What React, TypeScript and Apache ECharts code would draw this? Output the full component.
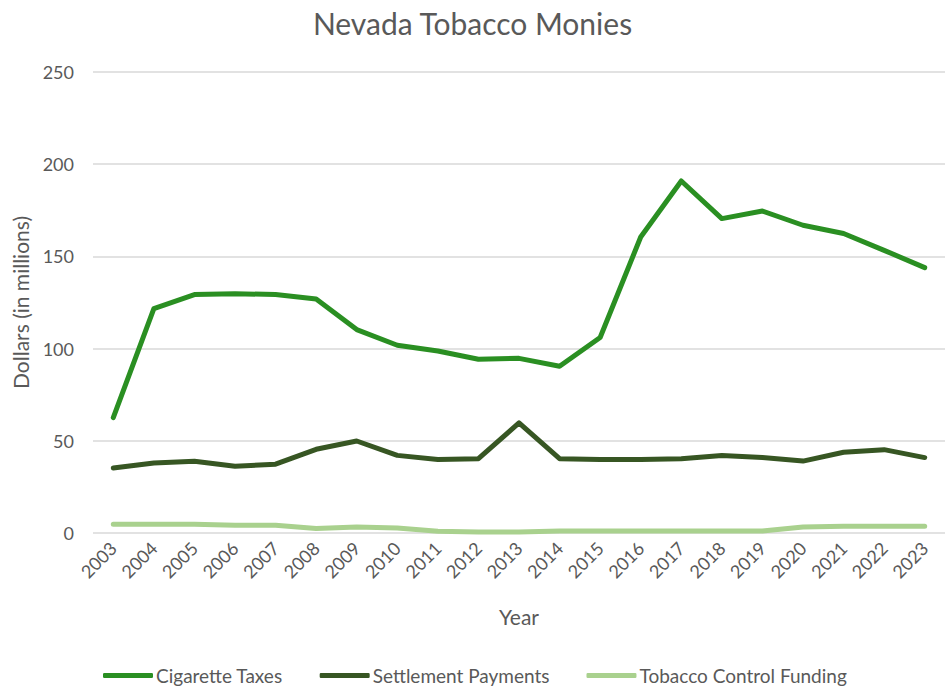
import React, { useEffect, useRef } from "react";
import * as echarts from "echarts";

const years = ["2003","2004","2005","2006","2007","2008","2009","2010","2011","2012","2013","2014","2015","2016","2017","2018","2019","2020","2021","2022","2023"];
const cigaretteTaxes = [62.6,121.7,129.3,129.8,129.3,126.9,110.3,101.8,98.7,94.2,94.7,90.4,106,160.5,190.9,170.5,174.6,166.9,162.4,153.3,143.9];
const settlementPayments = [35.3,38,38.9,36.2,37.3,45.4,49.9,42.1,39.8,40.3,59.7,40.3,39.8,39.8,40.3,42,40.9,39,43.8,45.2,40.9];
const tobaccoControl = [4.7,4.7,4.7,4.2,4.2,2.4,3.3,2.7,0.9,0.6,0.6,1.1,1.1,1.1,1.1,1.1,1.1,3.3,3.6,3.6,3.6];
const yTicks = [0, 50, 100, 150, 200, 250];

const FONT = "Lato";
const GREY = "#595959";

export default function App() {
  const ref = useRef<HTMLDivElement>(null);
  useEffect(() => {
    if (!ref.current) return;
    const chart = echarts.init(ref.current, null, { renderer: "svg" });
    const mk = (name: string, data: number[], color: string) => ({
      name,
      type: "line",
      data,
      symbol: "none",
      smooth: false,
      lineStyle: { color, width: 5, cap: "round", join: "round" },
      itemStyle: { color },
    });
    chart.setOption({
      animation: false,
      backgroundColor: "#ffffff",
      textStyle: { fontFamily: FONT },
      title: {
        text: "Nevada Tobacco Monies",
        left: "center",
        top: 3,
        textStyle: { fontFamily: FONT, fontSize: 30, fontWeight: "normal", color: GREY },
      },
      grid: { left: 93, top: 72, width: 863, height: 461 },
      legend: {
        left: 98,
        top: 661,
        itemWidth: 50,
        itemHeight: 5,
        itemGap: 37,
        icon: "roundRect",
        textStyle: { fontFamily: FONT, fontSize: 19, color: GREY, padding: [0, 0, 0, -2] },
        data: ["Cigarette Taxes", "Settlement Payments", "Tobacco Control Funding"],
      },
      xAxis: {
        type: "category",
        data: years,
        boundaryGap: true,
        name: "Year",
        nameLocation: "middle",
        nameGap: 73,
        nameTextStyle: { fontFamily: FONT, fontSize: 21, color: GREY },
        axisLine: { show: false },
        axisTick: { show: false },
        axisLabel: { rotate: 45, fontFamily: FONT, fontSize: 18, color: GREY, margin: 12, interval: 0 },
      },
      yAxis: {
        type: "value",
        min: yTicks[0],
        max: yTicks[yTicks.length - 1],
        interval: 50,
        name: "Dollars (in millions)",
        nameLocation: "middle",
        nameGap: 62,
        nameRotate: 90,
        nameTextStyle: { fontFamily: FONT, fontSize: 21, color: GREY },
        axisLine: { show: false },
        axisTick: { show: false },
        axisLabel: { fontFamily: FONT, fontSize: 18, color: GREY, margin: 19 },
        splitLine: { lineStyle: { color: "#d9d9d9", width: 1.5 } },
      },
      series: [
        mk("Cigarette Taxes", cigaretteTaxes, "#2a8f22"),
        mk("Settlement Payments", settlementPayments, "#375623"),
        mk("Tobacco Control Funding", tobaccoControl, "#a9d18e"),
      ],
    });
    return () => chart.dispose();
  }, []);
  return <div ref={ref} style={{ width: 945, height: 689, position: "absolute", left: 0, top: 0 }} />;
}
